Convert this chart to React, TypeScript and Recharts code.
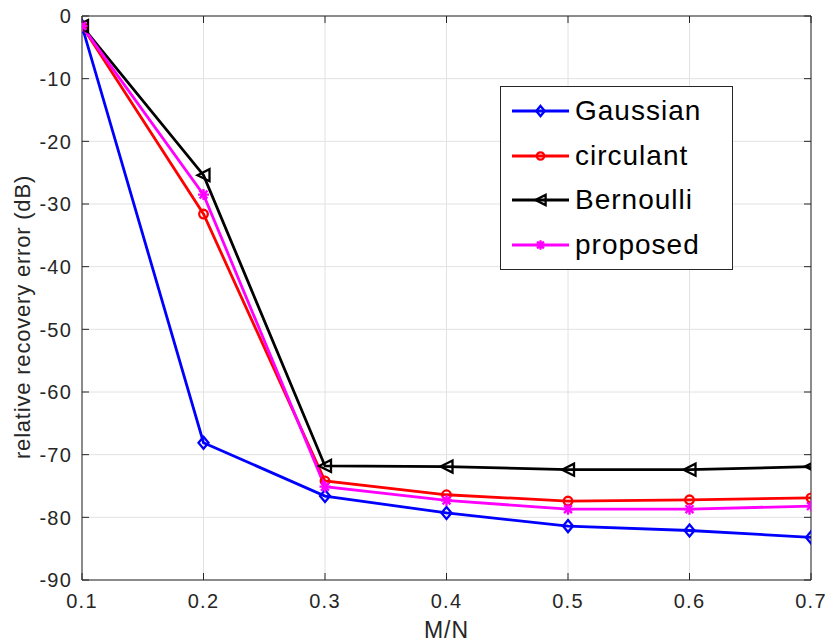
import React from 'react';
import { LineChart, Line, XAxis, YAxis, CartesianGrid, Legend } from 'recharts';

// Measurement ratio M/N on the horizontal axis
const ratios = [0.1, 0.2, 0.3, 0.4, 0.5, 0.6, 0.7];

// Relative recovery error in dB for each sensing matrix
const gaussianDb = [-1.6, -68.1, -76.6, -79.3, -81.4, -82.1, -83.2];
const circulantDb = [-1.6, -31.6, -74.2, -76.4, -77.4, -77.2, -76.9];
const bernoulliDb = [-1.6, -25.4, -71.8, -71.9, -72.4, -72.4, -71.9];
const proposedDb = [-1.6, -28.5, -75.1, -77.3, -78.7, -78.7, -78.2];

const seriesNames = ['Gaussian', 'circulant', 'Bernoulli', 'proposed'];

const xTicks = [0.1, 0.2, 0.3, 0.4, 0.5, 0.6, 0.7];
const yTicks = [0, -10, -20, -30, -40, -50, -60, -70, -80, -90];

const rows = ratios.map((r, i) => ({
  ratio: r,
  gaussian: gaussianDb[i],
  circulant: circulantDb[i],
  bernoulli: bernoulliDb[i],
  proposed: proposedDb[i],
}));

const FONT = '"Liberation Sans", Arial, Helvetica, sans-serif';
const AXIS_COLOR = '#262626';
const GRID_COLOR = '#e2e2e2';
const TICK_LEN = 7;
const Y_TICK_GAP = 10;
const X_TICK_GAP = 14;
const LINE_WIDTH = 2.8;
const MARKER_WIDTH = 2.3;

type MarkerKind = 'diamond' | 'circle' | 'triangleLeft' | 'asterisk';

const seriesStyle: { key: string; color: string; marker: MarkerKind }[] = [
  { key: 'gaussian', color: '#0000ff', marker: 'diamond' },
  { key: 'circulant', color: '#ff0000', marker: 'circle' },
  { key: 'bernoulli', color: '#000000', marker: 'triangleLeft' },
  { key: 'proposed', color: '#ff00ff', marker: 'asterisk' },
];

function Marker({ kind, cx, cy, color, scale = 1 }: { kind: MarkerKind; cx: number; cy: number; color: string; scale?: number }) {
  const sw = MARKER_WIDTH;
  if (kind === 'diamond') {
    const w = 5 * scale;
    const h = 6 * scale;
    return (
      <polygon
        points={`${cx},${cy - h} ${cx + w},${cy} ${cx},${cy + h} ${cx - w},${cy}`}
        fill="none"
        stroke={color}
        strokeWidth={sw}
      />
    );
  }
  if (kind === 'circle') {
    return <circle cx={cx} cy={cy} r={4.3 * scale} fill="none" stroke={color} strokeWidth={sw} />;
  }
  if (kind === 'triangleLeft') {
    const s = 6 * scale;
    return (
      <polygon
        points={`${cx - s},${cy} ${cx + s},${cy - s} ${cx + s},${cy + s}`}
        fill="none"
        stroke={color}
        strokeWidth={sw}
      />
    );
  }
  const r = 5.5 * scale;
  const d = r * 0.72;
  return (
    <path
      d={`M${cx - r},${cy} H${cx + r} M${cx},${cy - r} V${cy + r} M${cx - d},${cy - d} L${cx + d},${cy + d} M${cx - d},${cy + d} L${cx + d},${cy - d}`}
      stroke={color}
      strokeWidth={sw}
      fill="none"
    />
  );
}

const makeDot = (kind: MarkerKind, color: string) => (p: any) => {
  if (p.cx == null || p.cy == null) return <g key={`e-${p.index}`} />;
  return (
    <g key={`m-${p.index}`}>
      <Marker kind={kind} cx={p.cx} cy={p.cy} color={color} />
    </g>
  );
};

const textStyle = { fontFamily: FONT, fill: AXIS_COLOR };

const LeftTick = (props: any) => {
  const { x, y, payload } = props;
  const axisX = x + Y_TICK_GAP;
  return (
    <g>
      <line x1={axisX} x2={axisX + TICK_LEN} y1={y} y2={y} stroke={AXIS_COLOR} strokeWidth={1} />
      <text x={x} y={y} dy="0.36em" textAnchor="end" fontSize={20} letterSpacing={1.2} style={textStyle}>
        {payload.value}
      </text>
    </g>
  );
};

const BottomTick = (props: any) => {
  const { x, y, payload } = props;
  const axisY = y - X_TICK_GAP;
  return (
    <g>
      <line x1={x} x2={x} y1={axisY} y2={axisY - TICK_LEN} stroke={AXIS_COLOR} strokeWidth={1} />
      <text x={x} y={y} dy="0.71em" textAnchor="middle" fontSize={20} letterSpacing={1.2} style={textStyle}>
        {payload.value}
      </text>
    </g>
  );
};

const TopTick = (props: any) => {
  const { x, y } = props;
  return <line x1={x} x2={x} y1={y} y2={y + TICK_LEN} stroke={AXIS_COLOR} strokeWidth={1} />;
};

const RightTick = (props: any) => {
  const { x, y } = props;
  return <line x1={x - TICK_LEN} x2={x} y1={y} y2={y} stroke={AXIS_COLOR} strokeWidth={1} />;
};

const YLabel = (props: any) => {
  const vb = props.viewBox || {};
  const cx = vb.x + 30;
  const cy = vb.y + vb.height / 2 + 19;
  return (
    <text
      x={cx}
      y={cy}
      transform={`rotate(-90, ${cx}, ${cy})`}
      textAnchor="middle"
      fontSize={22}
      letterSpacing={0.8}
      style={textStyle}
    >
      relative recovery error (dB)
    </text>
  );
};

const XLabel = (props: any) => {
  const vb = props.viewBox || {};
  return (
    <text
      x={vb.x + vb.width / 2}
      y={vb.y + 58}
      textAnchor="middle"
      fontSize={23}
      letterSpacing={1}
      style={textStyle}
    >
      M/N
    </text>
  );
};

const LegendBox = ({ payload }: { payload?: any[] }) => {
  const entries = seriesStyle.map((s) => {
    const item = (payload || []).find((p) => p.dataKey === s.key);
    return { ...s, name: item ? item.value : s.key };
  });
  return (
    <div
      style={{
        width: 233,
        height: 184,
        boxSizing: 'border-box',
        border: `1px solid ${AXIS_COLOR}`,
        background: '#ffffff',
        paddingTop: 2,
        fontFamily: FONT,
      }}
    >
      {entries.map((e) => (
        <div key={e.key} style={{ display: 'flex', alignItems: 'center', height: 44.5 }}>
          <svg width={74} height={44} style={{ flex: 'none' }}>
            <line x1={11} x2={68} y1={22} y2={22} stroke={e.color} strokeWidth={LINE_WIDTH} />
            <Marker kind={e.marker} cx={39.5} cy={22} color={e.color} scale={0.85} />
          </svg>
          <span style={{ fontSize: 28, letterSpacing: 1, color: '#000', lineHeight: 1 }}>{e.name}</span>
        </div>
      ))}
    </div>
  );
};

export default function App() {
  return (
    <div style={{ position: 'absolute', left: 0, top: 0, width: 825, height: 641, background: '#ffffff' }}>
      <LineChart width={825} height={641} data={rows} margin={{ top: 15, right: 13, bottom: 0, left: 0 }}>
        <CartesianGrid stroke={GRID_COLOR} strokeWidth={1} />
        <XAxis
          dataKey="ratio"
          type="number"
          domain={[0.1, 0.7]}
          ticks={xTicks}
          interval={0}
          allowDataOverflow
          height={61}
          tickSize={0}
          tickMargin={X_TICK_GAP}
          axisLine={{ stroke: AXIS_COLOR, strokeWidth: 1 }}
          tick={<BottomTick />}
          label={<XLabel />}
        />
        <XAxis
          xAxisId="top"
          orientation="top"
          dataKey="ratio"
          type="number"
          domain={[0.1, 0.7]}
          ticks={xTicks}
          interval={0}
          allowDataOverflow
          height={1}
          tickSize={0}
          tickMargin={0}
          axisLine={{ stroke: AXIS_COLOR, strokeWidth: 1 }}
          tick={<TopTick />}
        />
        <YAxis
          type="number"
          domain={[-90, 0]}
          ticks={yTicks}
          interval={0}
          allowDataOverflow
          width={82}
          tickSize={0}
          tickMargin={Y_TICK_GAP}
          axisLine={{ stroke: AXIS_COLOR, strokeWidth: 1 }}
          tick={<LeftTick />}
          label={<YLabel />}
        />
        <YAxis
          yAxisId="right"
          orientation="right"
          type="number"
          domain={[-90, 0]}
          ticks={yTicks}
          interval={0}
          allowDataOverflow
          width={1}
          tickSize={0}
          tickMargin={0}
          axisLine={{ stroke: AXIS_COLOR, strokeWidth: 1 }}
          tick={<RightTick />}
        />
        {seriesStyle.map((s, i) => (
          <Line
            key={s.key}
            type="linear"
            dataKey={s.key}
            name={seriesNames[i]}
            stroke={s.color}
            strokeWidth={LINE_WIDTH}
            dot={makeDot(s.marker, s.color)}
            activeDot={false}
            isAnimationActive={false}
          />
        ))}
        <Legend
          layout="vertical"
          verticalAlign="middle"
          align="center"
          wrapperStyle={{ left: 500, top: 86, width: 233, height: 184 }}
          content={(props: any) => <LegendBox payload={props.payload} />}
        />
      </LineChart>
    </div>
  );
}
